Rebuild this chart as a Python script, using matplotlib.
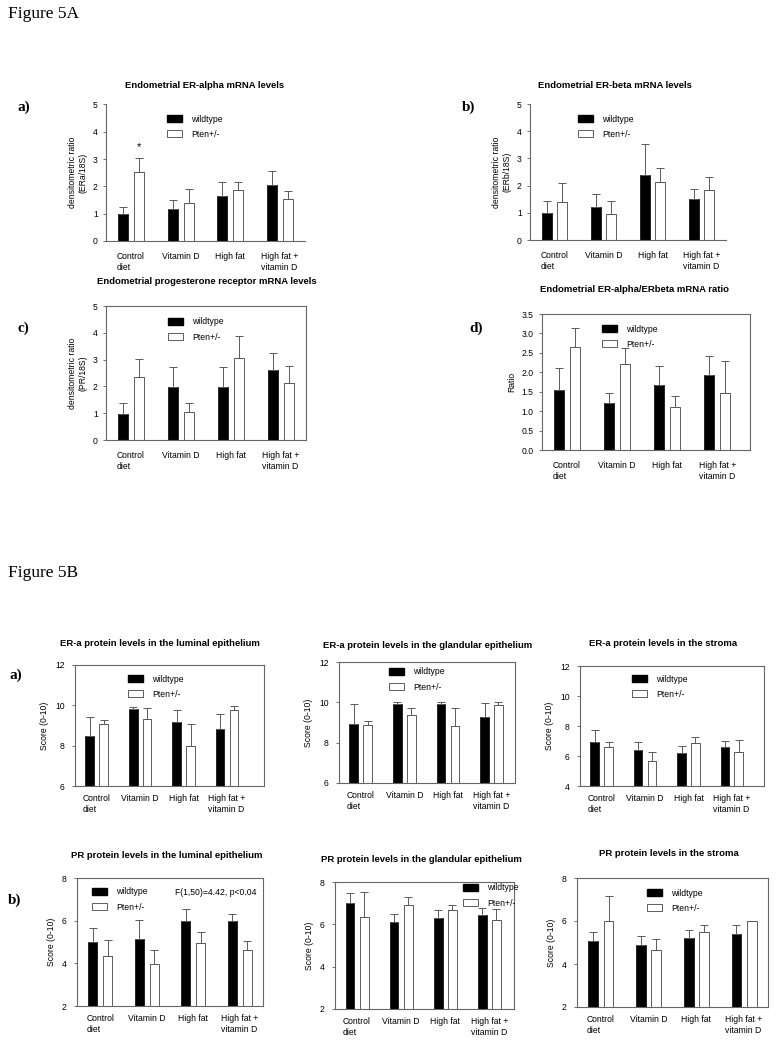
import matplotlib
matplotlib.use('Agg')
import matplotlib.pyplot as plt
from matplotlib.patches import Patch
import numpy as np

plt.rcParams['font.family'] = ['Liberation Sans', 'DejaVu Sans']

W, H, DPI = 777, 1050, 100

diets = ['Control\ndiet', 'Vitamin D', 'High fat', 'High fat +\nvitamin D']
groups = ['wildtype', 'Pten+/-']

# Figure 5A - mRNA levels (means and upper error bars)
era_wt = [0.99, 1.16, 1.65, 2.06]
era_wt_err = [0.24, 0.33, 0.51, 0.49]
era_pt = [2.52, 1.39, 1.87, 1.54]
era_pt_err = [0.52, 0.50, 0.29, 0.28]

erb_wt = [0.99, 1.23, 2.39, 1.50]
erb_wt_err = [0.43, 0.46, 1.14, 0.39]
erb_pt = [1.40, 0.96, 2.15, 1.85]
erb_pt_err = [0.70, 0.46, 0.50, 0.46]

pr_wt = [0.98, 1.99, 1.99, 2.62]
pr_wt_err = [0.41, 0.73, 0.73, 0.61]
pr_pt = [2.34, 1.03, 3.07, 2.14]
pr_pt_err = [0.67, 0.35, 0.80, 0.63]

ratio_wt = [1.54, 1.21, 1.68, 1.94]
ratio_wt_err = [0.56, 0.26, 0.47, 0.49]
ratio_pt = [2.65, 2.22, 1.11, 1.47]
ratio_pt_err = [0.49, 0.40, 0.27, 0.83]

# Figure 5B - protein scores
era_lum_wt = [8.50, 9.80, 9.17, 8.82]
era_lum_wt_err = [0.93, 0.10, 0.58, 0.76]
era_lum_pt = [9.07, 9.30, 8.00, 9.75]
era_lum_pt_err = [0.20, 0.55, 1.05, 0.23]

era_gl_wt = [8.93, 9.93, 9.90, 9.28]
era_gl_wt_err = [1.00, 0.07, 0.10, 0.67]
era_gl_pt = [8.87, 9.37, 8.82, 9.88]
era_gl_pt_err = [0.20, 0.36, 0.88, 0.14]

era_st_wt = [6.95, 6.42, 6.20, 6.60]
era_st_wt_err = [0.80, 0.50, 0.50, 0.40]
era_st_pt = [6.62, 5.70, 6.90, 6.25]
era_st_pt_err = [0.30, 0.60, 0.40, 0.85]

pr_lum_wt = [5.00, 5.13, 5.97, 5.97]
pr_lum_wt_err = [0.64, 0.91, 0.58, 0.34]
pr_lum_pt = [4.35, 3.97, 4.95, 4.63]
pr_lum_pt_err = [0.74, 0.66, 0.51, 0.40]

pr_gl_wt = [7.02, 6.09, 6.31, 6.44]
pr_gl_wt_err = [0.47, 0.38, 0.35, 0.31]
pr_gl_pt = [6.34, 6.89, 6.66, 6.22]
pr_gl_pt_err = [1.18, 0.38, 0.24, 0.50]

pr_st_wt = [5.07, 4.87, 5.19, 5.41]
pr_st_wt_err = [0.40, 0.43, 0.41, 0.40]
pr_st_pt = [6.02, 4.65, 5.49, 6.02]
pr_st_pt_err = [1.16, 0.51, 0.32, 0.0]

EDGE = '#5a5a5a'
TITLE_FS = 6.8


def px_axes(fig, x0, y0, x1, y1):
    return fig.add_axes([x0 / W, 1 - y1 / H, (x1 - x0) / W, (y1 - y0) / H])


def fig_text(fig, x, y, s, **kw):
    return fig.text(x / W, 1 - y / H, s, **kw)


def title(fig, x, y, s):
    fig_text(fig, x, y, s, fontsize=TITLE_FS, weight='bold', ha='center', va='center')


def letter(fig, x, y, s):
    fig_text(fig, x, y, s, family=['Liberation Serif', 'DejaVu Serif'], fontsize=11,
             weight='bold', va='center')


def bar_panel(fig, box, wt, wt_err, pt, pt_err, ylim, yticks, ylabel, leg_xy,
              xmax=3.5, frame=True, yfmt='%g', tickpad=3.5, xpad=8, ylabpad=4):
    ax = px_axes(fig, *box)
    x = np.arange(len(diets))
    zero = np.zeros(len(diets))
    ekw = dict(ecolor=EDGE, elinewidth=0.7, capsize=3, capthick=0.7)
    ax.bar(x - 0.16, wt, 0.2, color='black', edgecolor='black', linewidth=0.5,
           yerr=[zero, wt_err], error_kw=ekw, zorder=2)
    ax.bar(x + 0.16, pt, 0.2, color='white', edgecolor='#444444', linewidth=0.6,
           yerr=[zero, pt_err], error_kw=ekw, zorder=2)
    ax.set_xlim(-0.5, xmax)
    ax.set_ylim(*ylim)
    ax.set_yticks(yticks)
    ax.set_yticklabels([yfmt % t for t in yticks])
    ax.set_xticks(x)
    ax.set_xticklabels(diets)
    for lab in ax.get_xticklabels():
        lab.set_multialignment('left')
    ax.tick_params(axis='y', direction='out', length=2.5, width=0.6, color=EDGE,
                   labelsize=6.2, pad=tickpad)
    ax.tick_params(axis='x', length=0, labelsize=6.2, pad=xpad)
    for name, sp in ax.spines.items():
        sp.set_color('#666666')
        sp.set_linewidth(0.8)
        if not frame and name in ('top', 'right'):
            sp.set_visible(False)
    ax.set_ylabel(ylabel, fontsize=6.2, labelpad=ylabpad)
    handles = [Patch(facecolor='black', edgecolor='black'),
               Patch(facecolor='white', edgecolor='#444444', linewidth=0.6)]
    lx, ly = leg_xy
    ax.legend(handles, groups, loc='upper left',
              bbox_to_anchor=(lx / W, 1 - (ly - 4.5) / H),
              bbox_transform=fig.transFigure, frameon=False, fontsize=6.2,
              handlelength=1.7, handleheight=0.85, handletextpad=1.1,
              labelspacing=0.7, borderpad=0, borderaxespad=0)
    return ax


fig = plt.figure(figsize=(W / DPI, H / DPI), dpi=DPI)

serif = ['Liberation Serif', 'DejaVu Serif']
fig_text(fig, 8, 14, 'Figure 5A', family=serif, fontsize=12.5, va='center')
fig_text(fig, 8, 573, 'Figure 5B', family=serif, fontsize=12.5, va='center')

# --- Figure 5A ---
ax = bar_panel(fig, (106, 104.5, 305, 241), era_wt, era_wt_err, era_pt, era_pt_err,
               (0, 5), [0, 1, 2, 3, 4, 5], 'densitometric ratio\n(ERa/18S)',
               (167, 119), frame=False)
ax.text(0.16, 3.45, '*', ha='center', va='center', fontsize=8)
title(fig, 205, 85, 'Endometrial ER-alpha mRNA levels')
letter(fig, 18, 107, 'a)')

bar_panel(fig, (530, 104, 726, 240), erb_wt, erb_wt_err, erb_pt, erb_pt_err,
          (0, 5), [0, 1, 2, 3, 4, 5], 'densitometric ratio\n(ERb/18S)',
          (578, 119), frame=False)
title(fig, 615, 85, 'Endometrial ER-beta mRNA levels')
letter(fig, 462, 107, 'b)')

bar_panel(fig, (106, 306, 305.5, 440), pr_wt, pr_wt_err, pr_pt, pr_pt_err,
          (0, 5), [0, 1, 2, 3, 4, 5], 'densitometric ratio\n(PR/18S)',
          (168, 322))
title(fig, 207, 281, 'Endometrial progesterone receptor mRNA levels')
letter(fig, 18, 328, 'c)')

bar_panel(fig, (542, 314, 750, 450), ratio_wt, ratio_wt_err, ratio_pt, ratio_pt_err,
          (0, 3.5), [0, 0.5, 1, 1.5, 2, 2.5, 3, 3.5], 'Ratio',
          (602, 329), xmax=3.65, yfmt='%.1f')
title(fig, 635, 290, 'Endometrial ER-alpha/ERbeta mRNA ratio')
letter(fig, 469, 328, 'd)')

# --- Figure 5B ---
kwb = dict(tickpad=5, xpad=6)
bar_panel(fig, (75, 665, 264, 786), era_lum_wt, era_lum_wt_err, era_lum_pt, era_lum_pt_err,
          (6, 12), [6, 8, 10, 12], 'Score (0-10)', (128, 679), xmax=3.85, **kwb)
title(fig, 160, 644, 'ER-a protein levels in the luminal epithelium')
letter(fig, 10, 675, 'a)')

bar_panel(fig, (339, 662, 515, 783), era_gl_wt, era_gl_wt_err, era_gl_pt, era_gl_pt_err,
          (6, 12), [6, 8, 10, 12], 'Score (0-10)', (389, 672), xmax=3.54, **kwb)
title(fig, 428, 645, 'ER-a protein levels in the glandular epithelium')

bar_panel(fig, (580, 666, 764, 786), era_st_wt, era_st_wt_err, era_st_pt, era_st_pt_err,
          (4, 12), [4, 6, 8, 10, 12], 'Score (0-10)', (632, 679), xmax=3.74, **kwb)
title(fig, 663, 644, 'ER-a protein levels in the stroma')

ax = bar_panel(fig, (77, 878, 263, 1006), pr_lum_wt, pr_lum_wt_err, pr_lum_pt, pr_lum_pt_err,
               (2, 8), [2, 4, 6, 8], 'Score (0-10)', (92, 892), **kwb)
ax.text(0.527, 0.89, 'F(1,50)=4.42, p<0.04', transform=ax.transAxes, fontsize=6.2,
        ha='left', va='center')
title(fig, 167, 855, 'PR protein levels in the luminal epithelium')
letter(fig, 8, 900, 'b)')

bar_panel(fig, (335, 882, 514, 1009), pr_gl_wt, pr_gl_wt_err, pr_gl_pt, pr_gl_pt_err,
          (2, 8), [2, 4, 6, 8], 'Score (0-10)', (463, 888), xmax=3.56, **kwb)
title(fig, 421, 859, 'PR protein levels in the glandular epithelium')

bar_panel(fig, (577, 878, 768, 1007), pr_st_wt, pr_st_wt_err, pr_st_pt, pr_st_pt_err,
          (2, 8), [2, 4, 6, 8], 'Score (0-10)', (647, 893), **kwb)
title(fig, 669, 854, 'PR protein levels in the stroma')

fig.savefig('out.png', dpi=DPI)
